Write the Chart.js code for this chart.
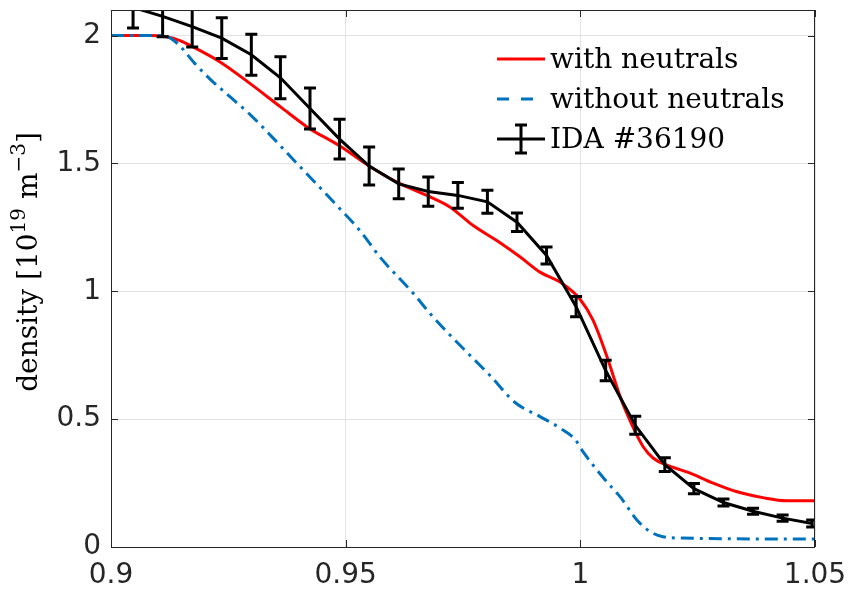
<!DOCTYPE html>
<html>
<head>
<meta charset="utf-8">
<script src="https://cdn.jsdelivr.net/npm/chart.js@4.4.0/dist/chart.umd.min.js"></script>
<style>
  html, body { margin: 0; padding: 0; background: #fff; }
</style>
</head>
<body>
<canvas id="densityChart" width="848" height="590"></canvas>
<script>
// --- perfis de densidade ---
const withX = [0.9000, 0.9083, 0.9117, 0.9147, 0.9170, 0.9234, 0.9298, 0.9362, 0.9420, 0.9486,
               0.9550, 0.9609, 0.9673, 0.9722, 0.9771, 0.9829, 0.9872, 0.9914, 0.9957, 0.9999,
               1.0027, 1.0057, 1.0085, 1.0112, 1.0134, 1.0155, 1.0185, 1.0234, 1.0283, 1.0334,
               1.0389, 1.0440, 1.0500];
const withY = [2.000, 2.000, 1.995, 1.980, 1.960, 1.895, 1.810, 1.720, 1.640, 1.570,
               1.490, 1.427, 1.375, 1.330, 1.258, 1.190, 1.134, 1.075, 1.036, 0.970,
               0.887, 0.743, 0.587, 0.470, 0.392, 0.348, 0.320, 0.289, 0.250, 0.216,
               0.193, 0.181, 0.181];

const withoutX = [0.9000, 0.9111, 0.9141, 0.9179, 0.9211, 0.9254, 0.9297, 0.9345, 0.9396, 0.9418,
                  0.9484, 0.9531, 0.9573, 0.9644, 0.9686, 0.9750, 0.9808, 0.9861, 0.9914, 0.9957,
                  0.9989, 1.0006, 1.0053, 1.0085, 1.0121, 1.0149, 1.0176, 1.0212, 1.0500];
const withoutY = [2.000, 2.000, 1.970, 1.890, 1.830, 1.760, 1.690, 1.600, 1.500, 1.458,
                  1.330, 1.236, 1.134, 0.992, 0.900, 0.777, 0.670, 0.565, 0.510, 0.465,
                  0.420, 0.372, 0.262, 0.196, 0.105, 0.060, 0.040, 0.035, 0.031];

// IDA #36190 com barras de erro
const idaX = [0.9047, 0.9110, 0.9173, 0.9236, 0.9299, 0.9361, 0.9424, 0.9487, 0.9550, 0.9613,
              0.9676, 0.9739, 0.9802, 0.9865, 0.9928, 0.9991, 1.0054, 1.0117, 1.0180, 1.0242,
              1.0305, 1.0368, 1.0431, 1.0494];
const idaY = [2.110, 2.075, 2.035, 1.990, 1.925, 1.835, 1.715, 1.595, 1.490, 1.420,
              1.390, 1.375, 1.350, 1.270, 1.140, 0.940, 0.690, 0.476, 0.322, 0.228,
              0.174, 0.140, 0.113, 0.092];
const idaErr = [0.080, 0.080, 0.080, 0.080, 0.080, 0.082, 0.080, 0.078, 0.074, 0.058,
                0.057, 0.050, 0.045, 0.036, 0.033, 0.040, 0.040, 0.035, 0.027, 0.020,
                0.014, 0.012, 0.012, 0.014];

const xTicks = [0.9, 0.95, 1, 1.05];
const yTicks = [0, 0.5, 1, 1.5, 2];
const legendLabels = ['with neutrals', 'without neutrals', 'IDA #36190'];

const RED = '#ff0000';
const BLUE = '#0072bd';
const BLACK = '#000000';
const AXIS = '#262626';
const LW = 3;

const toPoints = (xs, ys) => xs.map((x, i) => ({ x: x, y: ys[i] }));

// barras de erro desenhadas pelas escalas do gráfico
const errorBars = {
    id: 'errorBars',
    afterDatasetsDraw(chart) {
        const { ctx, chartArea, scales } = chart;
        ctx.save();
        ctx.beginPath();
        ctx.rect(chartArea.left, chartArea.top, chartArea.right - chartArea.left, chartArea.bottom - chartArea.top);
        ctx.clip();
        ctx.strokeStyle = BLACK;
        ctx.lineWidth = LW;
        idaX.forEach((xv, i) => {
            const px = scales.x.getPixelForValue(xv);
            const top = scales.y.getPixelForValue(idaY[i] + idaErr[i]);
            const bot = scales.y.getPixelForValue(idaY[i] - idaErr[i]);
            ctx.beginPath();
            ctx.moveTo(px, top); ctx.lineTo(px, bot);
            ctx.moveTo(px - 6, top); ctx.lineTo(px + 6, top);
            ctx.moveTo(px - 6, bot); ctx.lineTo(px + 6, bot);
            ctx.stroke();
        });
        ctx.restore();
    }
};

// caixa dos eixos com marcas para dentro
const axesBox = {
    id: 'axesBox',
    afterDraw(chart) {
        const { ctx, chartArea: a, scales } = chart;
        ctx.save();
        ctx.strokeStyle = AXIS;
        ctx.lineWidth = 1;
        ctx.strokeRect(a.left + 0.5, a.top + 0.5, a.right - a.left - 1, a.bottom - a.top);
        ctx.beginPath();
        xTicks.forEach(v => {
            const px = Math.round(scales.x.getPixelForValue(v)) + 0.5;
            ctx.moveTo(px, a.bottom); ctx.lineTo(px, a.bottom - 7);
            ctx.moveTo(px, a.top); ctx.lineTo(px, a.top + 7);
        });
        yTicks.forEach(v => {
            const py = Math.round(scales.y.getPixelForValue(v)) + 0.5;
            ctx.moveTo(a.left, py); ctx.lineTo(a.left + 7, py);
            ctx.moveTo(a.right, py); ctx.lineTo(a.right - 7, py);
        });
        ctx.stroke();
        ctx.restore();
    }
};

// legenda dentro da área do gráfico
const insideLegend = {
    id: 'insideLegend',
    afterDraw(chart) {
        const ctx = chart.ctx;
        const x0 = 497, x1 = 545, tx = 550;
        const rows = [59, 99, 139];
        ctx.save();
        ctx.lineWidth = LW;

        ctx.strokeStyle = RED;
        ctx.beginPath(); ctx.moveTo(x0, rows[0]); ctx.lineTo(x1, rows[0]); ctx.stroke();

        ctx.strokeStyle = BLUE;
        ctx.setLineDash([12, 12]);
        ctx.beginPath(); ctx.moveTo(x0, rows[1]); ctx.lineTo(x1, rows[1]); ctx.stroke();
        ctx.setLineDash([]);

        ctx.strokeStyle = BLACK;
        const mx = (x0 + x1) / 2;
        ctx.beginPath();
        ctx.moveTo(x0, rows[2]); ctx.lineTo(x1, rows[2]);
        ctx.moveTo(mx, rows[2] - 14); ctx.lineTo(mx, rows[2] + 14);
        ctx.moveTo(mx - 6, rows[2] - 14); ctx.lineTo(mx + 6, rows[2] - 14);
        ctx.moveTo(mx - 6, rows[2] + 14); ctx.lineTo(mx + 6, rows[2] + 14);
        ctx.stroke();

        ctx.fillStyle = '#000';
        ctx.font = '28px "DejaVu Serif"';
        ctx.textBaseline = 'alphabetic';
        ctx.textAlign = 'left';
        legendLabels.forEach((t, i) => ctx.fillText(t, tx, rows[i] + 9));
        ctx.restore();
    }
};

// título do eixo y com expoentes
const yTitle = {
    id: 'yTitle',
    afterDraw(chart) {
        const ctx = chart.ctx;
        const parts = [
            { t: 'density [10', sup: false },
            { t: '19', sup: true },
            { t: ' m', sup: false },
            { t: '\u22123', sup: true },
            { t: ']', sup: false }
        ];
        const big = '28px "DejaVu Serif"', small = '20px "DejaVu Serif"';
        ctx.save();
        let total = 0;
        parts.forEach(p => { ctx.font = p.sup ? small : big; p.w = ctx.measureText(p.t).width; total += p.w; });
        ctx.translate(37, 262);
        ctx.rotate(-Math.PI / 2);
        ctx.fillStyle = '#000';
        ctx.textBaseline = 'alphabetic';
        let x = -total / 2;
        parts.forEach(p => {
            ctx.font = p.sup ? small : big;
            ctx.fillText(p.t, x, p.sup ? -12 : 0);
            x += p.w;
        });
        ctx.restore();
    }
};

const tickFont = { family: '"DejaVu Sans"', size: 28 };

new Chart(document.getElementById('densityChart').getContext('2d'), {
    type: 'line',
    data: {
        datasets: [
            {
                label: legendLabels[2],
                data: toPoints(idaX, idaY),
                borderColor: BLACK,
                borderWidth: LW,
                pointRadius: 0,
                tension: 0,
                order: 0
            },
            {
                label: legendLabels[1],
                data: toPoints(withoutX, withoutY),
                borderColor: BLUE,
                borderWidth: LW,
                borderDash: [13, 6, 3, 6],
                pointRadius: 0,
                cubicInterpolationMode: 'monotone',
                order: 1
            },
            {
                label: legendLabels[0],
                data: toPoints(withX, withY),
                borderColor: RED,
                borderWidth: LW,
                pointRadius: 0,
                cubicInterpolationMode: 'monotone',
                order: 2
            }
        ]
    },
    options: {
        responsive: false,
        animation: false,
        layout: { padding: { top: 10, right: 33, left: 0, bottom: 0 } },
        plugins: {
            legend: { display: false },
            tooltip: { enabled: false }
        },
        scales: {
            x: {
                type: 'linear',
                min: 0.9,
                max: 1.05,
                afterBuildTicks: s => { s.ticks = xTicks.map(v => ({ value: v })); },
                afterFit: s => { s.height = 43; s.paddingLeft = 0; s.paddingRight = 0; },
                grid: { color: '#e3e3e3', drawTicks: false },
                border: { display: false },
                ticks: { font: tickFont, color: AXIS, padding: 12, maxRotation: 0, autoSkip: false,
                         callback: v => String(v) }
            },
            y: {
                type: 'linear',
                min: 0,
                max: 2.1,
                afterBuildTicks: s => { s.ticks = yTicks.map(v => ({ value: v })); },
                afterFit: s => { s.width = 111; s.paddingTop = 0; s.paddingBottom = 0; },
                grid: { color: '#e3e3e3', drawTicks: false },
                border: { display: false },
                ticks: { font: tickFont, color: AXIS, padding: 10, autoSkip: false,
                         callback: v => String(v) }
            }
        }
    },
    plugins: [errorBars, axesBox, insideLegend, yTitle]
});
</script>
</body>
</html>
